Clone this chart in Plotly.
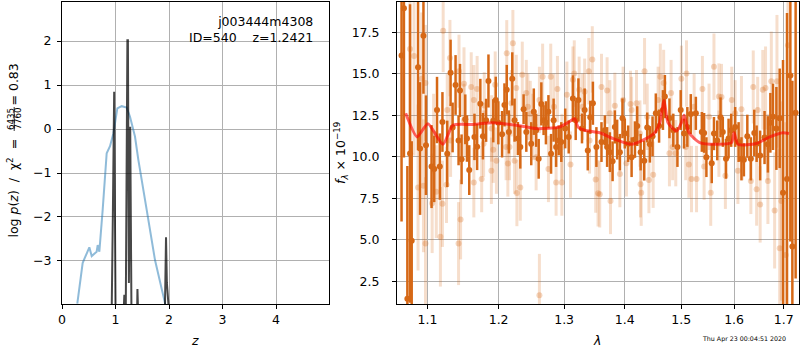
import plotly.graph_objects as go

# ---------------- left panel: redshift PDF ----------------
z_chi = [0.286, 0.386, 0.42, 0.511, 0.555, 0.648, 0.667, 0.698, 0.76, 0.835, 0.897, 0.96,
         1.034, 1.115, 1.209, 1.271, 1.364, 1.427, 1.583, 1.738, 1.925, 1.96]
logp_chi = [-3.97, -3.05, -2.95, -2.69, -2.89, -2.79, -2.64, -2.79, -1.84, -0.55, -0.39, -0.10,
            0.47, 0.52, 0.49, 0.28, -0.17, -0.70, -1.84, -2.98, -3.96, -4.3]

z_pdf = [0.88, 0.93, 0.95, 0.975, 1.0, 1.03, 1.14, 1.165, 1.18, 1.19, 1.222, 1.232, 1.25, 1.262,
         1.275, 1.30, 1.33, 1.40, 1.41, 1.43, 1.90, 1.925, 1.944, 1.96, 1.99, 2.01]
logp_pdf = [-4.5, -4.0, -2.0, 0.85, -4.0, -4.5, -4.5, -3.77, -4.0, -4.5, 2.02, 2.02, -3.5, 0.05,
            0.05, -4.5, -4.5, -4.5, -3.64, -4.5, -4.5, -4.0, -2.46, -3.5, -4.0, -4.5]

# ---------------- right panel: spectrum ----------------
lam_dark = [1.0658, 1.0689, 1.0734, 1.0769, 1.0791, 1.0875, 1.0902, 1.0947, 1.0981, 1.1056,
            1.1092, 1.1130, 1.1168, 1.1204, 1.1270, 1.1316, 1.1344, 1.1385, 1.1427, 1.1447,
            1.1469, 1.1521, 1.1545, 1.1577, 1.1651, 1.1689, 1.1735, 1.1772, 1.1818, 1.1852,
            1.1922, 1.1958, 1.1996, 1.2051, 1.2086, 1.2120, 1.2151, 1.2202, 1.2236, 1.2286,
            1.2322, 1.2372, 1.2413, 1.2488, 1.2527, 1.2563, 1.2602, 1.2643, 1.2678, 1.2714,
            1.2753, 1.2794, 1.2834, 1.2873, 1.2914, 1.2955, 1.3017, 1.3073, 1.3140, 1.3185,
            1.3229, 1.3287, 1.3330, 1.3381, 1.3422, 1.3465, 1.3523, 1.3607, 1.3663, 1.3701,
            1.3747, 1.3793, 1.3831, 1.3870, 1.3916, 1.3961, 1.4000, 1.4058, 1.4117, 1.4175,
            1.4215, 1.4274, 1.4337, 1.4389, 1.4436, 1.4483, 1.4541, 1.4599, 1.4668, 1.4703,
            1.4785, 1.4855, 1.4930, 1.4990, 1.5051, 1.5112, 1.5176, 1.5270, 1.5382, 1.5425,
            1.5468, 1.5569, 1.5612, 1.5674, 1.5738, 1.5781, 1.5843, 1.5893, 1.5944, 1.6021,
            1.6089, 1.6145, 1.6193, 1.6261, 1.6331, 1.6400, 1.6447, 1.6518, 1.6607, 1.6675,
            1.6725, 1.6779, 1.6849, 1.6917, 1.6986, 1.7069, 1.7139, 1.7181, 1.7250]
flux_dark = [16.1, 18.96, 1.44, 10.2, 4.94, 15.4, 10.5, 17.3, 10.7, 9.41,
             9.27, 12.82, 9.41, 12.1, 10.18, 15.06, 11.77, 14.33, 10.99, 14.0,
             9.85, 12.26, 11.1, 9.2, 11.2, 10.6, 13.2, 11.24, 12.2, 14.57,
             12.17, 13.43, 12.05, 11.36, 13.13, 14.04, 11.5, 14.7, 12.21, 11.1,
             10.59, 12.87, 11.5, 10.79, 12.72, 11.6, 9.88, 13.19, 12.21, 12.05,
             12.72, 10.18, 12.21, 10.59, 10.99, 10.89, 11.71, 11.2, 13.51, 12.21,
             13.43, 11.71, 12.82, 10.38, 12.38, 13.23, 10.59, 10.89, 11.6, 10.59,
             10.28, 9.73, 11.8, 11.04, 10.28, 12.32, 11.4, 10.79, 9.98, 11.04,
             11.85, 10.28, 9.77, 11.77, 10.75, 11.24, 12.62, 11.85, 12.82, 13.63,
             12.32, 11.6, 10.59, 12.82, 11.4, 11.8, 12.58, 12.62, 11.5, 11.44,
             9.98, 9.61, 11.4, 10.99, 12.38, 11.5, 9.88, 11.1, 11.6, 11.8,
             10.89, 9.88, 9.82, 11.24, 9.88, 11.44, 10.79, 10.08, 11.16, 10.75,
             12.05, 12.41, 11.71, 12.32, 7.84, 8.66, 14.9, 4.59, 12.66]
err_dark = [10, 9, 8, 9, 6, 5, 4, 3.5, 3, 2.5,
            2, 2, 2, 1.8, 2, 2, 1.5, 1.8, 1.5, 1.6,
            1.5, 1.5, 1.4, 1.5, 1.4, 1.4, 1.5, 1.4, 1.3, 1.6,
            1.3, 1.4, 1.3, 1.4, 1.3, 1.5, 1.3, 1.6, 1.3, 1.0,
            1.3, 0.9, 1.2, 1.3, 1.4, 1.0, 1.2, 1.3, 0.9, 1.3,
            1.0, 1.2, 1.3, 1.2, 0.9, 1.2, 1.2, 1.0, 1.4, 1.2,
            1.3, 0.9, 1.3, 1.2, 1.0, 1.3, 1.2, 1.2, 0.9, 1.2,
            1.2, 1.2, 1.0, 1.2, 1.1, 1.2, 0.9, 1.1, 1.2, 1.1,
            1.2, 1.1, 1.2, 0.9, 1.1, 1.2, 1.2, 1.0, 1.2, 1.3,
            1.2, 1.0, 1.2, 1.2, 0.9, 1.2, 1.2, 1.0, 1.2, 1.2,
            1.2, 1.2, 1.0, 1.2, 1.2, 0.9, 1.2, 1.2, 1.0, 1.2,
            1.2, 1.3, 1.0, 1.3, 1.3, 1.4, 1.1, 1.5, 1.6, 1.7,
            1.8, 2, 2.5, 3, 8, 10, 10, 10, 10]

lam_light = [1.0769, 1.0822, 1.0924, 1.0974, 1.0875, 1.0947, 1.0974, 1.1064, 1.1120, 1.1176,
             1.1204, 1.1214, 1.1260, 1.1307, 1.1427, 1.1455, 1.1433, 1.1503, 1.1605, 1.1642,
             1.1754, 1.1689, 1.1791, 1.1894, 1.1922, 1.1950, 1.1968, 1.1270, 1.2211, 1.2120,
             1.2262, 1.2271, 1.2322, 1.2136, 1.2236, 1.2352, 1.2473, 1.2563, 1.2613, 1.2663,
             1.2753, 1.2789, 1.2873, 1.2894, 1.2964, 1.3044, 1.3101, 1.3140, 1.3162, 1.3241,
             1.3330, 1.3398, 1.3455, 1.3511, 1.3550, 1.2161, 1.2187, 1.2413, 1.2512, 1.3607,
             1.3701, 1.3758, 1.3831, 1.3916, 1.3971, 1.4028, 1.4098, 1.4202, 1.4272, 1.4284,
             1.4342, 1.4419, 1.4494, 1.4621, 1.4681, 1.4785, 1.4843, 1.4900, 1.5002, 1.5096,
             1.5140, 1.5189, 1.5283, 1.3578, 1.4389, 1.5393, 1.5612, 1.5425, 1.5550, 1.5706,
             1.5756, 1.5831, 1.5955, 1.6145, 1.6075, 1.6331, 1.6379, 1.6447, 1.6518, 1.6571,
             1.6627, 1.6675, 1.6745, 1.6813, 1.6861, 1.6917, 1.6952, 1.7089, 1.7042,
             1.1503, 1.1642, 1.1782, 1.1898, 1.1316, 1.1084, 1.2110, 1.2437, 1.2613, 1.2839,
             1.2964, 1.3297, 1.3410, 1.3747, 1.4117, 1.4262, 1.4582, 1.4815, 1.5082, 1.5238,
             1.5518, 1.5706, 1.6021, 1.6158, 1.6468, 1.6675]
flux_light = [16.5, 16.07, 14.7, 14.45, 8.15, 8.25, 4.77, 7.2, 7.9, 5.18,
              7.17, 17.6, 8.31, 15.95, 4.77, 6.22, 15.16, 14.4, 14.2, 8.45,
              8.66, 14.08, 13.1, 9.16, 10.43, 14.35, 9.77, 12.82, 16.85, 16.24,
              14.15, 7.82, 8.15, 9.6, 9.77, 14.94, 12.58, 9.98, 1.65, 14.82,
              9.27, 14.82, 8.45, 14.08, 8.45, 13.74, 9.53, 14.65, 15.02, 14.04,
              13.92, 15.16, 15.87, 8.63, 7.8, 10.59, 13.23, 13.84, 11.8, 14.21,
              14.0, 7.34, 13.07, 8.96, 13.43, 9.61, 13.19, 13.23, 8.35, 7.84,
              15.16, 8.6, 8.92, 14.82, 14.45, 10.22, 10.59, 10.22, 14.7, 15.02,
              9.53, 8.66, 8.66, 7.74, 12.41, 14.08, 15.43, 9.41, 7.84, 13.63,
              13.6, 8.86, 13.43, 12.87, 9.16, 8.55, 14.21, 8.05, 7.13, 14.04,
              14.15, 8.55, 14.55, 6.77, 14.55, 4.49, 7.34, 16.73, 4.09,
              12.2, 13.43, 10.79, 11.71, 10.99, 11.4, 10.59, 13.02, 13.43, 13.02,
              10.59, 13.02, 10.99, 12.62, 12.82, 11.4, 13.43, 13.84, 10.59, 13.02,
              12.41, 10.79, 12.62, 10.59, 12.82, 10.59]
err_light = [7, 6, 4, 3.5, 5, 4, 4, 3, 2.8, 3,
             2.6, 2.5, 2.3, 2.3, 2.5, 2.4, 2.2, 2.2, 2.1, 2.1,
             2, 2, 2, 2, 2, 2, 2, 2.2, 2, 2,
             2, 2, 2, 2, 2, 2, 2, 2, 2.5, 2,
             2, 2, 2, 2, 2, 2, 2, 2, 2, 2,
             2, 2, 2, 2, 2, 2, 2, 2, 2, 2,
             2, 2, 2, 2, 2, 2, 2, 2, 2, 2,
             2, 2, 2, 2, 2, 2, 2, 2, 2, 2,
             2, 2, 2, 2, 2, 2, 2, 2, 2, 2,
             2, 2, 2, 2, 2, 2, 2.2, 2.2, 2.3, 2.4,
             2.5, 2.6, 3, 3.5, 4, 6, 6, 8, 8,
             2.2, 2.1, 2, 2, 2.2, 2.4, 2, 2, 2, 2,
             2, 2, 2, 2, 2, 2, 2, 2, 2, 2,
             2, 2, 2, 2, 2, 2]

lam_model = [1.0712, 1.0862, 1.1007, 1.1211, 1.1349, 1.1630, 1.1917, 1.2263, 1.2567, 1.2930,
             1.3078, 1.3169, 1.3222, 1.3331, 1.3578, 1.3801, 1.4114, 1.4316, 1.4522, 1.4611,
             1.4688, 1.4760, 1.4912, 1.5003, 1.5051, 1.5144, 1.5343, 1.5659, 1.5949, 1.6000,
             1.6078, 1.6444, 1.6713, 1.6986, 1.7111]
flux_model = [12.62, 11.2, 12.0, 10.75, 11.9, 11.95, 12.05, 11.9, 11.7, 11.8,
              12.1, 12.3, 11.8, 11.6, 11.45, 11.1, 10.75, 11.0, 11.45, 12.05,
              13.4, 12.05, 11.55, 12.05, 12.5, 11.45, 10.85, 10.75, 10.85, 11.45,
              10.75, 10.8, 11.2, 11.45, 11.4]

left_xticks = [0, 1, 2, 3, 4]
left_yticks = [-3, -2, -1, 0, 1, 2]
right_xticks = [1.1, 1.2, 1.3, 1.4, 1.5, 1.6, 1.7]
right_xticklabels = ["1.1", "1.2", "1.3", "1.4", "1.5", "1.6", "1.7"]
right_yticks = [2.5, 5.0, 7.5, 10.0, 12.5, 15.0, 17.5]

ORANGE = "rgb(214,104,22)"
ORANGE_L = "rgba(214,104,22,0.22)"
ORANGE_LM = "rgba(214,104,22,0.28)"

W, H = 800, 350
def px(x):
    return x / W
def py(y):
    return 1 - y / H

FONT = "DejaVu Sans"
fig = go.Figure()

fig.add_trace(go.Scatter(x=z_chi, y=logp_chi, mode="lines", xaxis="x", yaxis="y",
                         line=dict(color="rgba(31,119,180,0.5)", width=2), showlegend=False))
fig.add_trace(go.Scatter(x=z_pdf, y=logp_pdf, mode="lines", xaxis="x", yaxis="y",
                         line=dict(color="rgba(0,0,0,0.72)", width=2), showlegend=False))

fig.add_trace(go.Scatter(x=lam_light, y=flux_light, mode="markers", xaxis="x2", yaxis="y2",
                         marker=dict(color=ORANGE_LM, size=6, line=dict(width=0)),
                         error_y=dict(type="data", array=err_light, color=ORANGE_L,
                                      thickness=3, width=0),
                         showlegend=False))
fig.add_trace(go.Scatter(x=lam_dark, y=flux_dark, mode="markers", xaxis="x2", yaxis="y2",
                         marker=dict(color=ORANGE, size=6, line=dict(width=0)),
                         error_y=dict(type="data", array=err_dark, color=ORANGE,
                                      thickness=2.5, width=0),
                         showlegend=False))
fig.add_trace(go.Scatter(x=lam_model, y=flux_model, mode="lines", xaxis="x2", yaxis="y2",
                         line=dict(color="rgba(255,0,0,0.6)", width=3, shape="spline",
                                   smoothing=0.6),
                         showlegend=False))

axis_common = dict(showline=True, mirror=True, linecolor="black", linewidth=1,
                   ticks="outside", ticklen=4, tickwidth=1, tickcolor="black",
                   showgrid=True, gridcolor="#b0b0b0", gridwidth=1, zeroline=False,
                   tickfont=dict(family=FONT, size=12.5, color="black"), automargin=False)

fig.update_layout(
    width=W, height=H, margin=dict(l=0, r=0, t=0, b=0),
    paper_bgcolor="white", plot_bgcolor="white",
    xaxis=dict(domain=[px(62), px(329)], range=[0, 4.99], tickvals=left_xticks,
               anchor="y", **axis_common),
    yaxis=dict(domain=[py(304), py(2)], range=[-3.98, 2.89], tickvals=left_yticks,
               anchor="x", ticklabelstandoff=3, **axis_common),
    xaxis2=dict(domain=[px(397), px(799)], type="log", range=[0.02526, 0.23857],
                tickvals=right_xticks, ticktext=right_xticklabels, anchor="y2",
                **axis_common),
    yaxis2=dict(domain=[py(304), py(2)], range=[1.13, 19.33], tickvals=right_yticks,
                tickformat=".1f", anchor="x2", ticklabelstandoff=10, **axis_common),
)

ann = []
def add(text, x, y, size=12.5, xa="center", ya="middle", angle=0, align="center"):
    ann.append(dict(text=text, x=px(x), y=py(y), xref="paper", yref="paper",
                    xanchor=xa, yanchor=ya, showarrow=False, textangle=angle, align=align,
                    font=dict(family=FONT, size=size, color="black")))

add("<i>z</i>", 195, 340)
add("<i>λ</i>", 597, 340)
add("j003444m4308<br>ID=540\u00a0\u00a0\u00a0\u00a0z=1.2421", 315, 12, xa="right", ya="top",
    align="right")
add("Thu Apr 23 00:04:51 2020", 788, 339, size=6.3, xa="right")
add("<i>f</i><sub><i>λ</i></sub> × 10<sup>−19</sup>", 341, 153, angle=-90)
add("log\u00a0<i>p</i>(<i>z</i>)\u00a0\u00a0/\u00a0\u00a0χ<sup>2</sup>\u00a0\u00a0=", 12, 240,
    xa="center", ya="bottom", angle=-90)
add("6435", 11, 119, size=8.7, angle=-90)
add("7760", 17.5, 119, size=8.7, angle=-90)
add("= 0.83", 12.5, 62, xa="center", ya="top", angle=-90)
fig.update_layout(annotations=ann)

fig.add_shape(type="line", xref="paper", yref="paper", x0=px(14.2), x1=px(14.2),
              y0=py(131), y1=py(107), line=dict(color="black", width=0.8))

fig.write_html("out.html")
